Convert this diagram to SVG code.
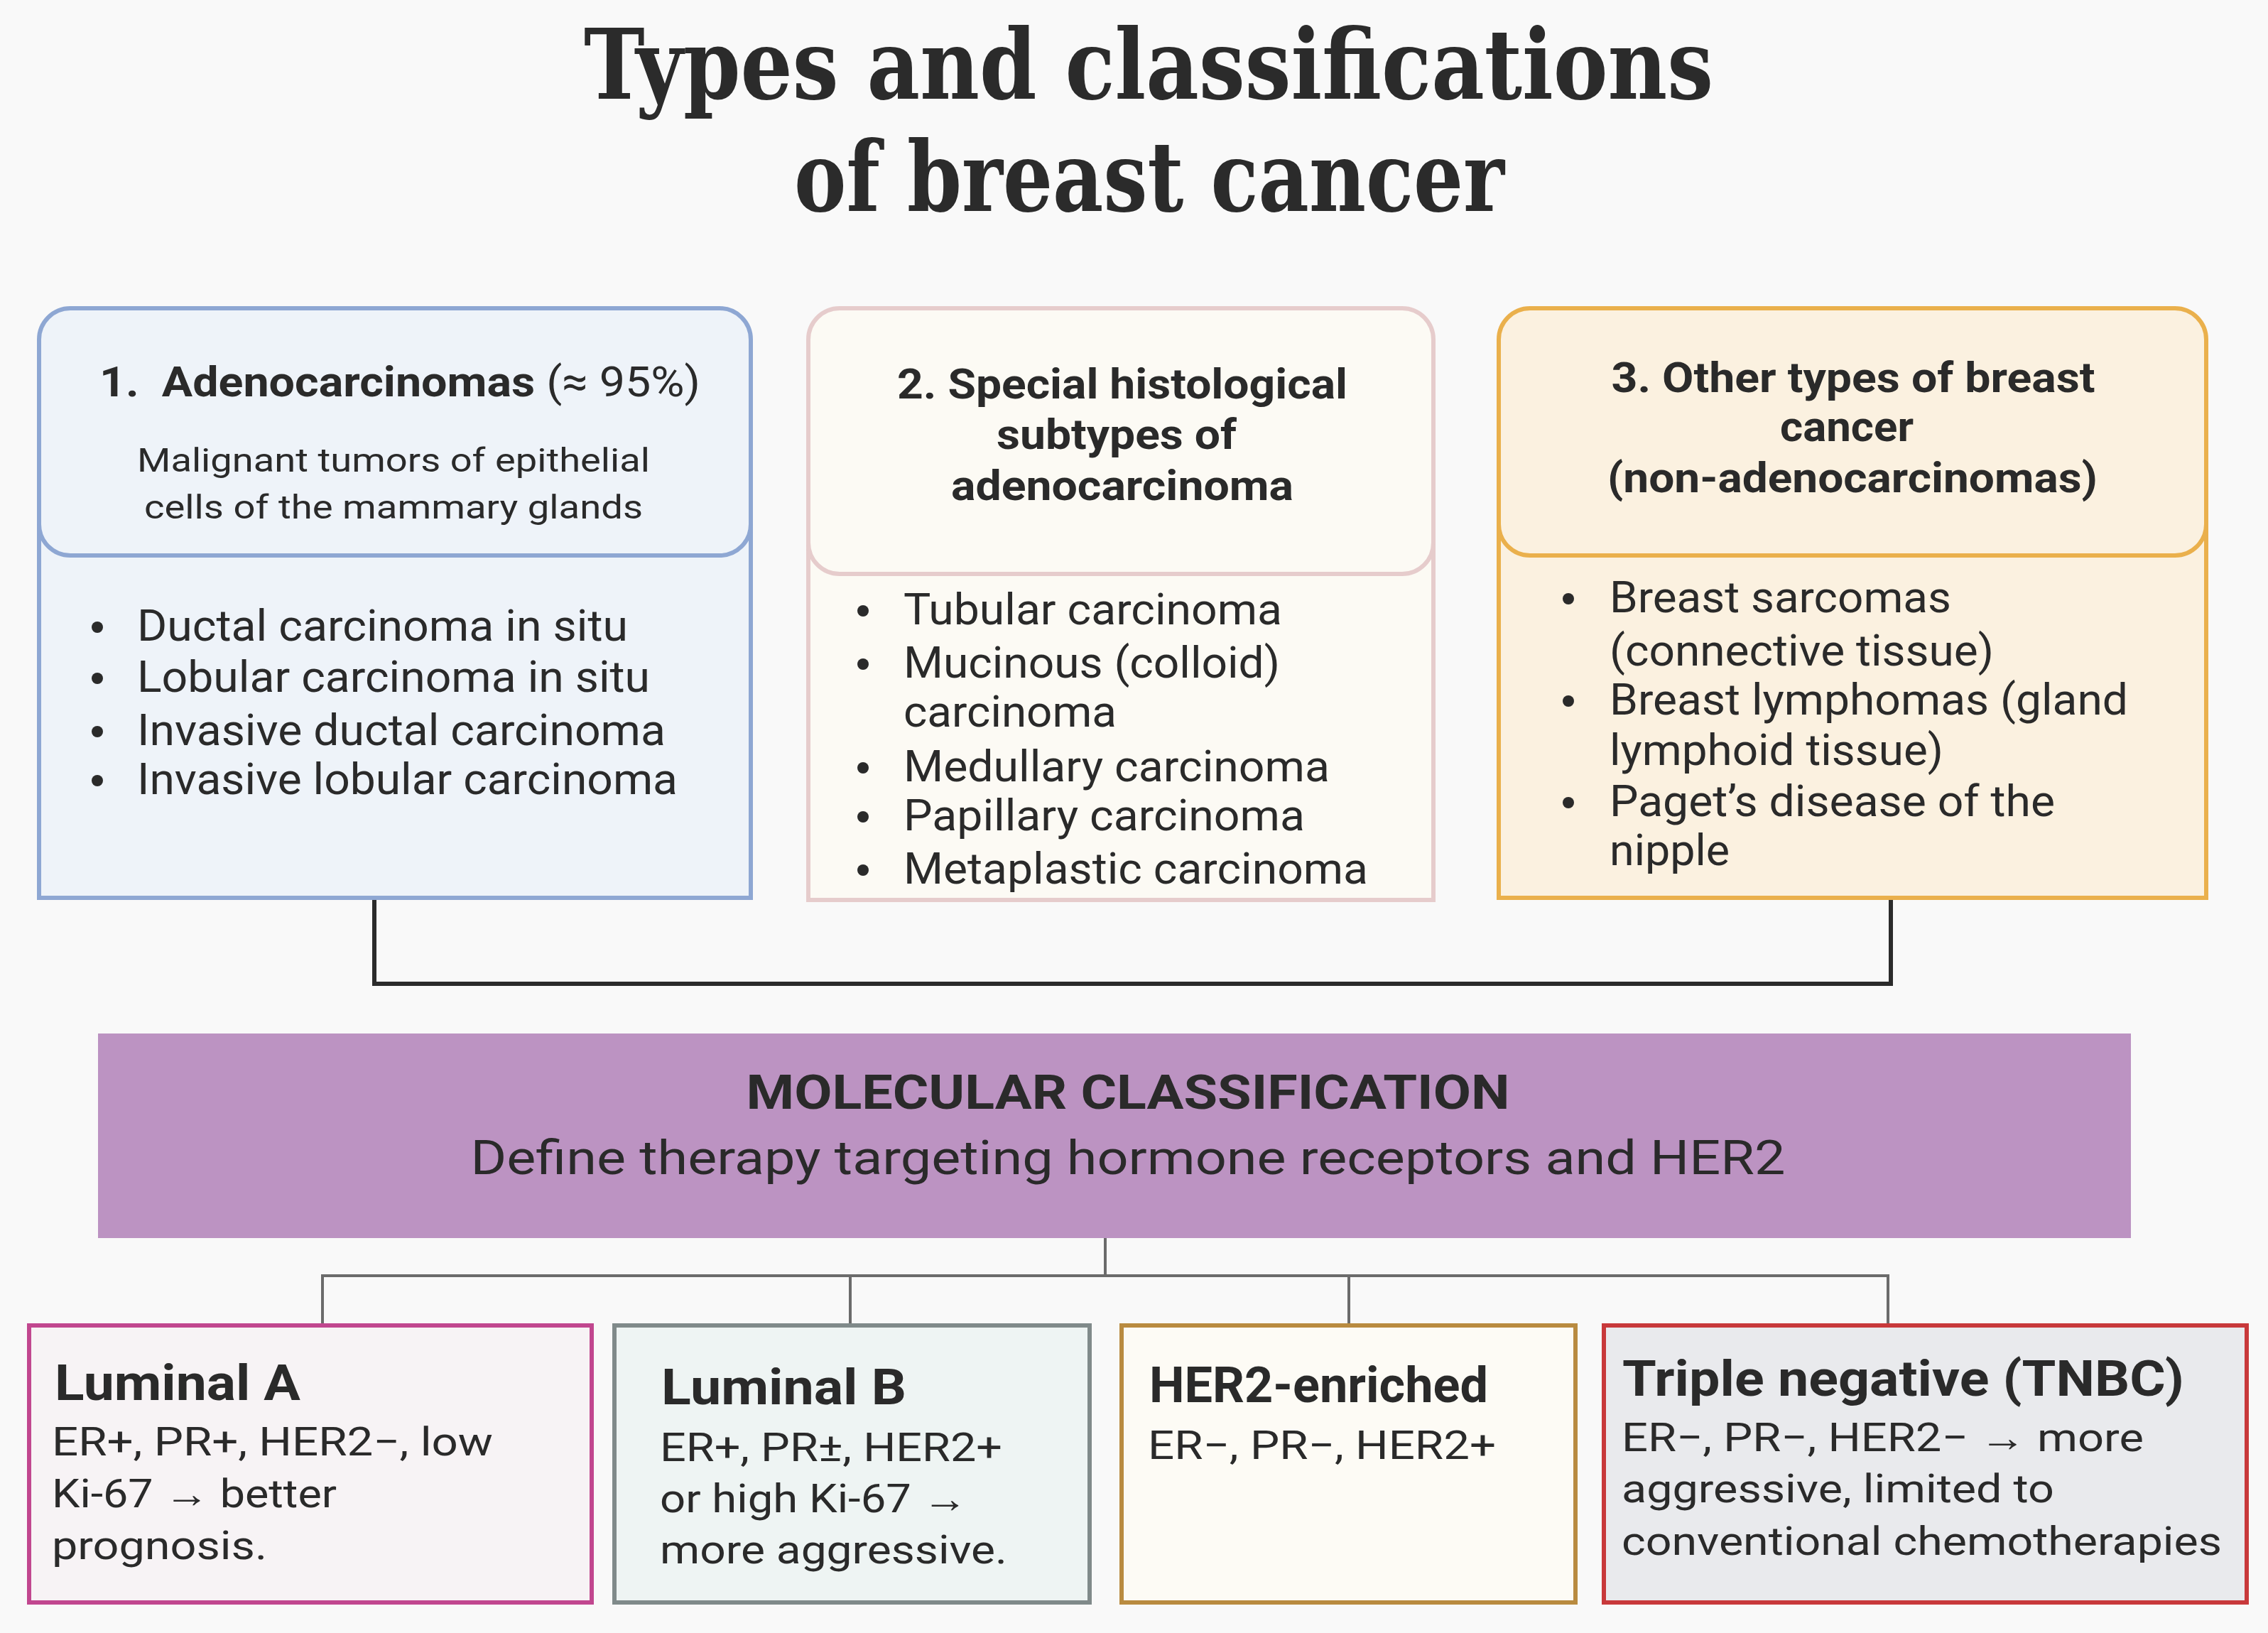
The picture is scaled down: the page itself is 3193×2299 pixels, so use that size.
<svg xmlns="http://www.w3.org/2000/svg" width="3193" height="2299" viewBox="0 0 3193 2299">
<style>
text{font-family:Roboto,"Liberation Sans",sans-serif;fill:#2a2a2a}
.title{font-family:"DejaVu Serif","Liberation Serif",serif;font-weight:bold;font-size:136px;fill:#2b2b2b}
.hb{font-weight:bold;font-size:60px}
.sub{font-size:46px}
.li{font-size:62px}
.bt{font-weight:bold;font-size:70px}
.bd{font-size:56px}
.conn{fill:none;stroke-linejoin:miter}
</style>
<rect x="0" y="0" width="3193" height="2299" fill="#f9f9f9"/>
<g id="title">
<text class="title" x="1617" y="139" text-anchor="middle" textLength="1590" lengthAdjust="spacingAndGlyphs">Types and classifications</text>
<text class="title" x="1618" y="297" text-anchor="middle" textLength="1000" lengthAdjust="spacingAndGlyphs">of breast cancer</text>
</g>
<g id="connectors">
<path class="conn" d="M527 1264 V1385 H2662 V1264" stroke="#2b2b2b" stroke-width="6"/>
<path class="conn" d="M1556 1743 V1796 M454 1866 V1796 H2658 V1866 M1197 1796 V1866 M1899 1796 V1866" stroke="#6b6b6b" stroke-width="4"/>
</g>
<g id="adenocarcinomas">
<rect x="55" y="740" width="1002" height="524" fill="#eef3f9" stroke="#8ea7d3" stroke-width="6"/>
<rect x="55" y="434" width="1002" height="348" rx="44" fill="#eef3f9" stroke="#8ea7d3" stroke-width="6"/>
<text class="hb" x="140" y="558" textLength="846" lengthAdjust="spacingAndGlyphs">1.&#160; Adenocarcinomas <tspan font-weight="normal">(≈ 95%)</tspan></text>
<text class="sub" x="554" y="664" text-anchor="middle" textLength="722" lengthAdjust="spacingAndGlyphs">Malignant tumors of epithelial</text>
<text class="sub" x="554" y="730" text-anchor="middle" textLength="702" lengthAdjust="spacingAndGlyphs">cells of the mammary glands</text>
<g fill="#2a2a2a"><circle cx="137" cy="883" r="8"/><circle cx="137" cy="955" r="8"/><circle cx="137" cy="1030" r="8"/><circle cx="137" cy="1099" r="8"/></g>
<text class="li" x="193" y="902" textLength="691" lengthAdjust="spacingAndGlyphs">Ductal carcinoma in situ</text>
<text class="li" x="193" y="974" textLength="722" lengthAdjust="spacingAndGlyphs">Lobular carcinoma in situ</text>
<text class="li" x="193" y="1049" textLength="744" lengthAdjust="spacingAndGlyphs">Invasive ductal carcinoma</text>
<text class="li" x="193" y="1118" textLength="761" lengthAdjust="spacingAndGlyphs">Invasive lobular carcinoma</text>
</g>
<g id="special-subtypes">
<rect x="1138" y="760" width="880" height="507" fill="#fcfaf4" stroke="#e6cccc" stroke-width="6"/>
<rect x="1138" y="434" width="880" height="374" rx="44" fill="#fcfaf4" stroke="#e6cccc" stroke-width="6"/>
<text class="hb" x="1580" y="561" text-anchor="middle" textLength="634" lengthAdjust="spacingAndGlyphs">2. Special histological</text>
<text class="hb" x="1572" y="632" text-anchor="middle" textLength="338" lengthAdjust="spacingAndGlyphs">subtypes of</text>
<text class="hb" x="1580" y="704" text-anchor="middle" textLength="482" lengthAdjust="spacingAndGlyphs">adenocarcinoma</text>
<g fill="#2a2a2a"><circle cx="1215" cy="860" r="8"/><circle cx="1215" cy="935" r="8"/><circle cx="1215" cy="1081" r="8"/><circle cx="1215" cy="1150" r="8"/><circle cx="1215" cy="1225" r="8"/></g>
<text class="li" x="1272" y="879" textLength="533" lengthAdjust="spacingAndGlyphs">Tubular carcinoma</text>
<text class="li" x="1272" y="954" textLength="530" lengthAdjust="spacingAndGlyphs">Mucinous (colloid)</text>
<text class="li" x="1272" y="1023" textLength="300" lengthAdjust="spacingAndGlyphs">carcinoma</text>
<text class="li" x="1272" y="1100" textLength="600" lengthAdjust="spacingAndGlyphs">Medullary carcinoma</text>
<text class="li" x="1272" y="1169" textLength="565" lengthAdjust="spacingAndGlyphs">Papillary carcinoma</text>
<text class="li" x="1272" y="1244" textLength="654" lengthAdjust="spacingAndGlyphs">Metaplastic carcinoma</text>
</g>
<g id="other-types">
<rect x="2110" y="740" width="996" height="524" fill="#fbf1e0" stroke="#eab04c" stroke-width="6"/>
<rect x="2110" y="434" width="996" height="348" rx="44" fill="#fbf1e0" stroke="#eab04c" stroke-width="6"/>
<text class="hb" x="2609" y="552" text-anchor="middle" textLength="681" lengthAdjust="spacingAndGlyphs">3. Other types of breast</text>
<text class="hb" x="2600" y="621" text-anchor="middle" textLength="188" lengthAdjust="spacingAndGlyphs">cancer</text>
<text class="hb" x="2608" y="693" text-anchor="middle" textLength="690" lengthAdjust="spacingAndGlyphs">(non-adenocarcinomas)</text>
<g fill="#2a2a2a"><circle cx="2208" cy="843" r="8"/><circle cx="2208" cy="987" r="8"/><circle cx="2208" cy="1130" r="8"/></g>
<text class="li" x="2266" y="862" textLength="481" lengthAdjust="spacingAndGlyphs">Breast sarcomas</text>
<text class="li" x="2266" y="937" textLength="541" lengthAdjust="spacingAndGlyphs">(connective tissue)</text>
<text class="li" x="2266" y="1006" textLength="730" lengthAdjust="spacingAndGlyphs">Breast lymphomas (gland</text>
<text class="li" x="2266" y="1077" textLength="470" lengthAdjust="spacingAndGlyphs">lymphoid tissue)</text>
<text class="li" x="2266" y="1149" textLength="627" lengthAdjust="spacingAndGlyphs">Paget’s disease of the</text>
<text class="li" x="2266" y="1218" textLength="169" lengthAdjust="spacingAndGlyphs">nipple</text>
</g>
<g id="molecular">
<rect x="138" y="1455" width="2862" height="288" fill="#bc93c2"/>
<text x="1588" y="1561" text-anchor="middle" font-weight="bold" font-size="66" textLength="1075" lengthAdjust="spacingAndGlyphs">MOLECULAR CLASSIFICATION</text>
<text x="1588" y="1653" text-anchor="middle" font-size="66" textLength="1851" lengthAdjust="spacingAndGlyphs">Define therapy targeting hormone receptors and HER2</text>
</g>
<g id="luminal-a">
<rect x="41" y="1866" width="792" height="390" fill="#f7f3f5" stroke="#c1478f" stroke-width="6"/>
<text class="bt" x="77" y="1971" textLength="346" lengthAdjust="spacingAndGlyphs">Luminal A</text>
<text class="bd" x="73" y="2049" textLength="621" lengthAdjust="spacingAndGlyphs">ER+, PR+, HER2−, low</text>
<text class="bd" x="73" y="2122" textLength="401" lengthAdjust="spacingAndGlyphs">Ki-67 → better</text>
<text class="bd" x="73" y="2195" textLength="303" lengthAdjust="spacingAndGlyphs">prognosis.</text>
</g>
<g id="luminal-b">
<rect x="865" y="1866" width="669" height="390" fill="#eef4f3" stroke="#808a8a" stroke-width="6"/>
<text class="bt" x="931" y="1977" textLength="345" lengthAdjust="spacingAndGlyphs">Luminal B</text>
<text class="bd" x="929" y="2057" textLength="482" lengthAdjust="spacingAndGlyphs">ER+, PR±, HER2+</text>
<text class="bd" x="929" y="2129" textLength="433" lengthAdjust="spacingAndGlyphs">or high Ki-67 →</text>
<text class="bd" x="929" y="2201" textLength="489" lengthAdjust="spacingAndGlyphs">more aggressive.</text>
</g>
<g id="her2-enriched">
<rect x="1579" y="1866" width="639" height="390" fill="#fdfbf5" stroke="#b98b40" stroke-width="6"/>
<text class="bt" x="1618" y="1974" textLength="477" lengthAdjust="spacingAndGlyphs">HER2-enriched</text>
<text class="bd" x="1616" y="2054" textLength="490" lengthAdjust="spacingAndGlyphs">ER−, PR−, HER2+</text>
</g>
<g id="triple-negative">
<rect x="2258" y="1866" width="905" height="390" fill="#e9eaed" stroke="#c8393b" stroke-width="6"/>
<text class="bt" x="2284" y="1965" textLength="791" lengthAdjust="spacingAndGlyphs">Triple negative (TNBC)</text>
<text class="bd" x="2283" y="2043" textLength="735" lengthAdjust="spacingAndGlyphs">ER−, PR−, HER2− → more</text>
<text class="bd" x="2283" y="2115" textLength="609" lengthAdjust="spacingAndGlyphs">aggressive, limited to</text>
<text class="bd" x="2283" y="2189" textLength="845" lengthAdjust="spacingAndGlyphs">conventional chemotherapies</text>
</g>
</svg>
